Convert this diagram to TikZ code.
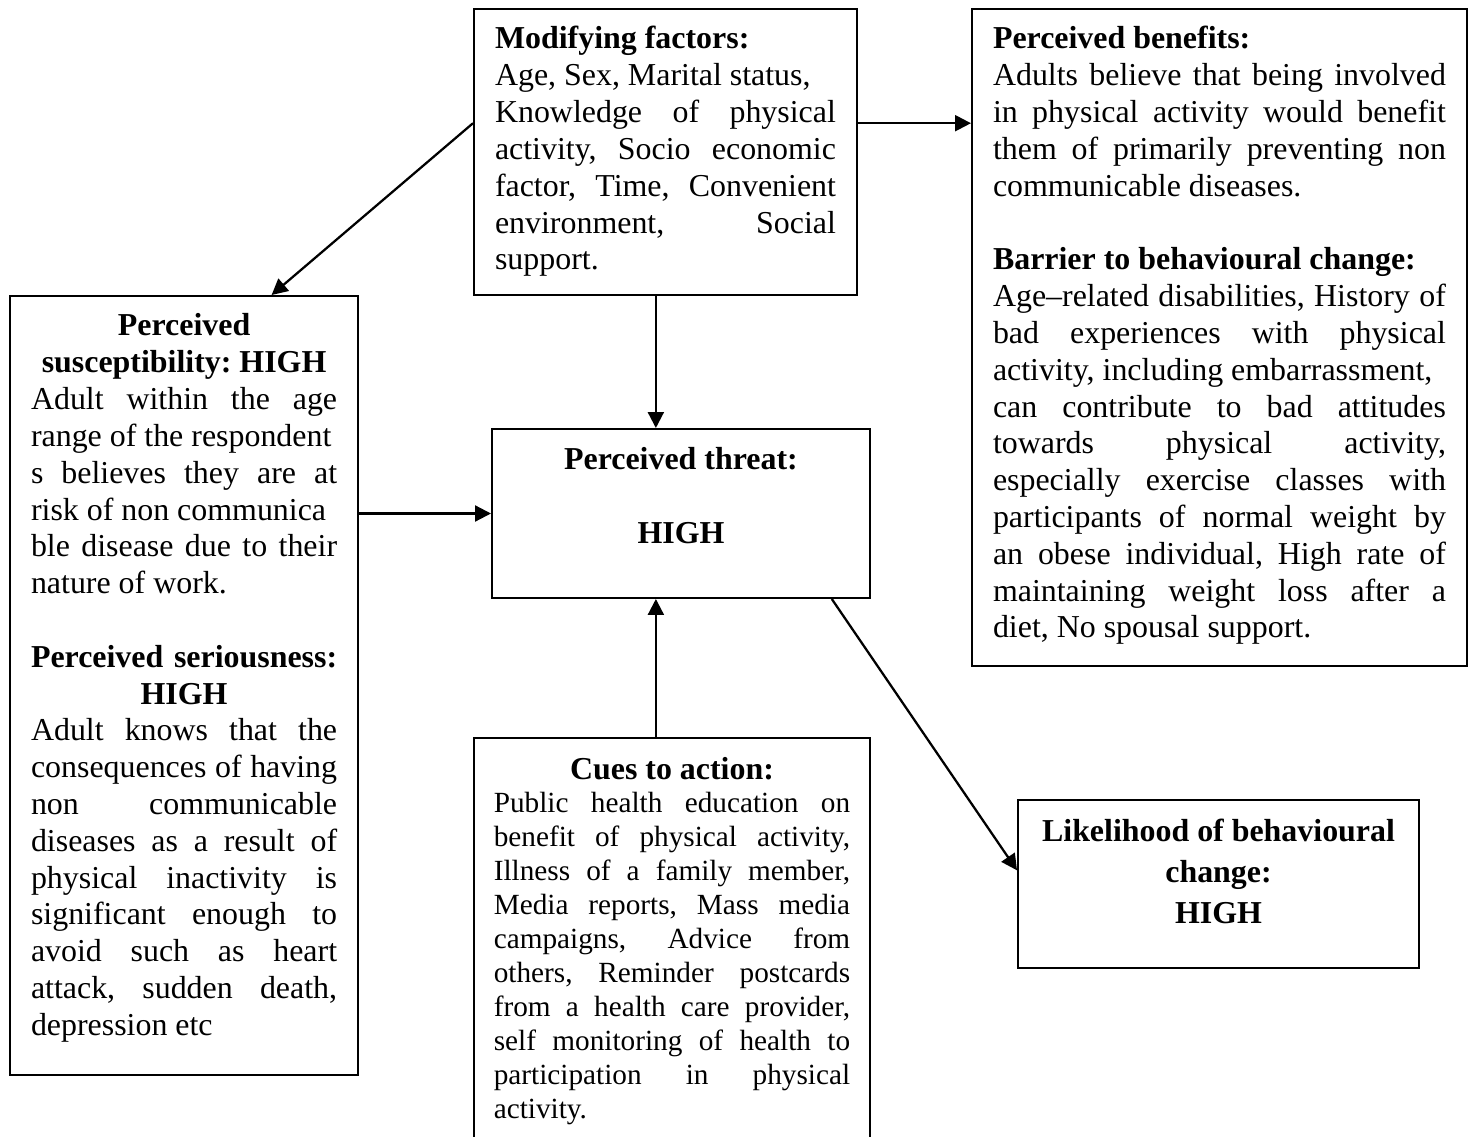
\documentclass[tikz,border=0pt]{standalone}
\usepackage{fontspec}
\setmainfont{Liberation Serif}
\usetikzlibrary{arrows.meta,calc}

% rows of text inside the boxes
\newcommand{\jrow}[1]{\hbox to\linewidth{\spaceskip=0.25em plus 1fil minus 0.04em\relax #1}}
\newcommand{\lrow}[1]{\hbox to\linewidth{#1\hfil}}
\newcommand{\crow}[1]{\hbox to\linewidth{\hfil#1\hfil}}
\newcommand{\boxtext}[3]{\parbox[t][#2][t]{#1}{#3}}

\tikzset{
    box/.style = { draw, line width = 0.75pt, anchor = north west,
                   inner xsep = 7.9pt, inner ysep = 5.34pt,
                   font = \fontsize{12}{13.84}\selectfont\frenchspacing },
    link/.style = { -{Triangle[length=6pt,width=6pt]}, line width = 0.85pt }
}

\begin{document}
\begin{tikzpicture}[ x = 0.376pt, y = -0.376pt ]
        \useasboundingbox ( 0, 0 ) rectangle ( 1471, 1136 );
        \clip ( 0, 0 ) rectangle ( 1471, 1136 );

        % modifying factors
        \node [ box ] (mod) at ( 473, 8 ) {\boxtext{128.2pt}{96.86pt}{%
            \lrow{\strut\textbf{Modifying factors:}}
            \lrow{Age, Sex, Marital status,}
            \jrow{Knowledge of physical}
            \jrow{activity, Socio economic}
            \jrow{factor, Time, Convenient}
            \jrow{environment, Social}
            \lrow{support.}}};

        % perceived benefits and barriers
        \node [ box ] (ben) at ( 971, 8 ) {\boxtext{170.3pt}{236.35pt}{%
            \lrow{\strut\textbf{Perceived benefits:}}
            \jrow{Adults believe that being involved}
            \jrow{in physical activity would benefit}
            \jrow{them of primarily preventing non}
            \lrow{communicable diseases.}
            \lrow{}
            \lrow{\textbf{Barrier to behavioural change:}}
            \jrow{Age--related disabilities, History of}
            \jrow{bad experiences with physical}
            \lrow{activity, including embarrassment,}
            \jrow{can contribute to bad attitudes}
            \jrow{towards physical activity,}
            \jrow{especially exercise classes with}
            \jrow{participants of normal weight by}
            \jrow{an obese individual, High rate of}
            \jrow{maintaining weight loss after a}
            \lrow{diet, No spousal support.}}};

        % susceptibility and seriousness
        \node [ box ] (sus) at ( 9, 295 ) {\boxtext{115.1pt}{282.2pt}{%
            \crow{\strut\textbf{Perceived}}
            \crow{\textbf{susceptibility: HIGH}}
            \jrow{Adult within the age}
            \lrow{range of the respondent}
            \jrow{s believes they are at}
            \lrow{risk of non communica}
            \jrow{ble disease due to their}
            \lrow{nature of work.}
            \lrow{}
            \jrow{\textbf{Perceived seriousness:}}
            \crow{\textbf{HIGH}}
            \jrow{Adult knows that the}
            \jrow{consequences of having}
            \jrow{non communicable}
            \jrow{diseases as a result of}
            \jrow{physical inactivity is}
            \jrow{significant enough to}
            \jrow{avoid such as heart}
            \jrow{attack, sudden death,}
            \lrow{depression etc}}};

        % perceived threat
        \node [ box, inner ysep = 5.72pt ] (thr) at ( 491, 428 ) {\boxtext{126.3pt}{52.1pt}{%
            \crow{\strut\textbf{Perceived threat:}}
            \lrow{}
            \crow{\textbf{HIGH}}}};

        % cues to action
        \node [ box, inner xsep = 7.45pt, inner ysep = 6.5pt,
                font = \fontsize{11}{12.75}\selectfont\frenchspacing ] (cue) at ( 473, 737 ) {\boxtext{134pt}{144.9pt}{%
            \crow{\strut\fontsize{12}{12.75}\selectfont\textbf{Cues to action:}}
            \jrow{Public health education on}
            \jrow{benefit of physical activity,}
            \jrow{Illness of a family member,}
            \jrow{Media reports, Mass media}
            \jrow{campaigns, Advice from}
            \jrow{others, Reminder postcards}
            \jrow{from a health care provider,}
            \jrow{self monitoring of health to}
            \jrow{participation in physical}
            \lrow{activity.}}};

        % likelihood of change
        \node [ box, inner ysep = 4.5pt,
                font = \fontsize{12}{15.6}\selectfont ] (lik) at ( 1017, 799 ) {\boxtext{135pt}{54.1pt}{%
            \crow{\strut\textbf{Likelihood of behavioural}}
            \crow{\textbf{change:}}
            \crow{\textbf{HIGH}}}};

        % arrows
        \coordinate (modL) at ($(mod.north west)!0.4!(mod.south west)$);
        \coordinate (susT) at ($(sus.north west)!0.75!(sus.north east)$);
        \draw [ link ] (modL) -- (susT);

        \coordinate (modR) at ($(mod.north east)!0.4!(mod.south east)$);
        \draw [ link ] (modR) -- (modR -| ben.west);

        \coordinate (modB) at ($(mod.south west)!0.475!(mod.south east)$);
        \draw [ link ] (modB) -- (modB |- thr.north);

        \draw [ link ] (sus.east |- thr.west) -- (thr.west);

        \coordinate (thrB) at ($(thr.south west)!0.434!(thr.south east)$);
        \draw [ link ] (thrB |- cue.north) -- (thrB);

        \coordinate (thrR) at ($(thr.south west)!0.897!(thr.south east)$);
        \coordinate (likL) at ($(lik.north west)!0.42!(lik.south west)$);
        \draw [ link ] (thrR) -- (likL);
    \end{tikzpicture}
\end{document}
